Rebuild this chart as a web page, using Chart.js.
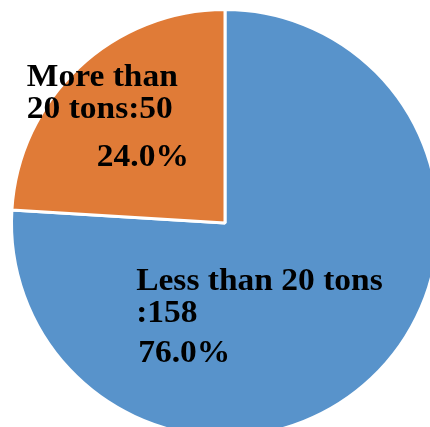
<!DOCTYPE html>
<html>
<head>
<meta charset="utf-8">
<script src="https://cdn.jsdelivr.net/npm/chart.js@4"></script>
<style>
    html, body { margin: 0; padding: 0; background: #fff; overflow: hidden; }
    body { width: 430px; height: 427px; position: relative; }
    #marco { position: absolute; left: 0; top: 0; width: 450px; height: 446px; }
</style>
</head>
<body>
<div id="marco"><canvas id="graficoToneladas"></canvas></div>
<script>
// categorias y valores del pastel
const categorias = ['Less than 20 tons', 'More than 20 tons'];
const valores = [158, 50];
// nombre partido en dos renglones como en la etiqueta
const nombreLineas = [['Less than 20 tons', ''], ['More than', '20 tons']];
const colores = ['#5893CB', '#E07B37'];

const total = valores.reduce((a, b) => a + b, 0);

// desplazamiento de cada renglon respecto al centro del sector [dx, dy]
const posEtiquetas = [
    [[-162, -11], [-162, 21], [-160, 61]],
    [[-125, -59], [-125, -27], [-55, 21]]
];
const estiramiento = 1.08;

const etiquetasPlugin = {
    id: 'etiquetasSector',
    afterDatasetsDraw(chart) {
        const ctx = chart.ctx;
        const meta = chart.getDatasetMeta(0);
        meta.data.forEach((arc, i) => {
            const p = arc.tooltipPosition();
            const v = valores[i];
            const lineas = [
                nombreLineas[i][0],
                nombreLineas[i][1] + ':' + v,
                (v / total * 100).toFixed(1) + '%'
            ];
            lineas.forEach((txt, j) => {
                const [dx, dy] = posEtiquetas[i][j];
                ctx.save();
                ctx.fillStyle = '#000';
                ctx.font = 'bold 31px "Liberation Serif", "Times New Roman", serif';
                ctx.textAlign = 'left';
                ctx.textBaseline = 'alphabetic';
                ctx.translate(p.x + dx, p.y + dy);
                ctx.scale(estiramiento, 1);
                ctx.fillText(txt, 0, 0);
                ctx.restore();
            });
        });
    }
};

new Chart(document.getElementById('graficoToneladas'), {
    type: 'pie',
    data: {
        labels: categorias,
        datasets: [{
            data: valores,
            backgroundColor: colores,
            borderColor: '#fff',
            borderWidth: 3
        }]
    },
    options: {
        responsive: true,
        maintainAspectRatio: false,
        animation: false,
        layout: { padding: { left: 8, right: 8, top: 8, bottom: 8 } },
        plugins: {
            legend: { display: false },
            tooltip: { enabled: false }
        }
    },
    plugins: [etiquetasPlugin]
});
</script>
</body>
</html>
